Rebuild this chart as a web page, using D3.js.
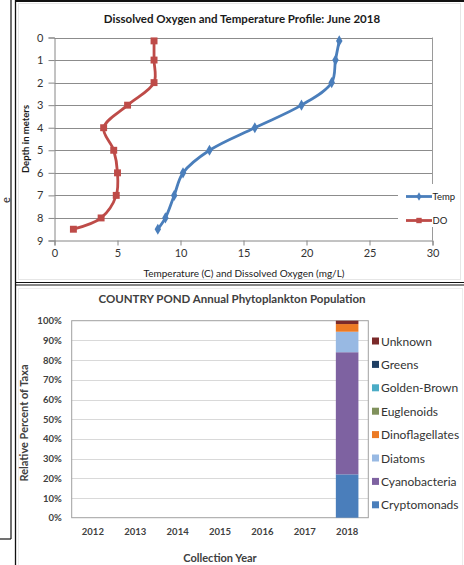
<!DOCTYPE html>
<html>
<head>
<meta charset="utf-8">
<script src="https://cdn.jsdelivr.net/npm/d3@7"></script>
<style>
  html, body { margin: 0; padding: 0; background: #fff; }
  svg { display: block; }
  text { font-family: Lato, "Open Sans", sans-serif; }
</style>
</head>
<body>
<svg id="chart" width="464" height="565"></svg>
<script>
// ---------- Data: profile chart ----------
const depths = [0.15, 1, 2, 3, 4, 5, 6, 7, 8, 8.5];
const temperature = [22.6, 22.3, 22.0, 19.6, 15.9, 12.3, 10.2, 9.5, 8.8, 8.2];
const dissolvedOxygen = [7.9, 7.9, 7.9, 5.8, 3.9, 4.7, 5.0, 4.9, 3.7, 1.5];
const depthTicks = [0, 1, 2, 3, 4, 5, 6, 7, 8, 9];
const valueTicks = [0, 5, 10, 15, 20, 25, 30];
const profileSeries = ["Temp", "DO"];

// ---------- Data: phytoplankton chart ----------
const years = ["2012", "2013", "2014", "2015", "2016", "2017", "2018"];
const taxa = ["Cryptomonads", "Cyanobacteria", "Diatoms", "Dinoflagellates", "Euglenoids", "Golden-Brown", "Greens", "Unknown"];
const cryptomonads   = [0, 0, 0, 0, 0, 0, 22];
const cyanobacteria  = [0, 0, 0, 0, 0, 0, 62];
const diatoms        = [0, 0, 0, 0, 0, 0, 10.4];
const dinoflagellates= [0, 0, 0, 0, 0, 0, 3.9];
const euglenoids     = [0, 0, 0, 0, 0, 0, 0];
const goldenBrown    = [0, 0, 0, 0, 0, 0, 0];
const greens         = [0, 0, 0, 0, 0, 0, 0];
const unknown        = [0, 0, 0, 0, 0, 0, 1.7];
const percentTicks = [0, 10, 20, 30, 40, 50, 60, 70, 80, 90, 100];

const taxaValues = [cryptomonads, cyanobacteria, diatoms, dinoflagellates, euglenoids, goldenBrown, greens, unknown];
const taxaColors = ["#4A7EBB", "#7E62A1", "#98B9E3", "#EC7A24", "#80915C", "#4BACC6", "#1F3F63", "#7B2A2A"];

const svg = d3.select("#chart");

// ---------- Panel frames ----------
const frame = svg.append("g").attr("stroke", "#111").attr("fill", "none");
frame.append("line").attr("x1", 11).attr("x2", 11).attr("y1", 0).attr("y2", 539).attr("stroke-width", 1.2);
frame.append("line").attr("x1", 0).attr("x2", 11).attr("y1", 539).attr("y2", 539).attr("stroke-width", 1.2);
frame.append("line").attr("x1", 15.5).attr("x2", 15.5).attr("y1", 0).attr("y2", 565).attr("stroke-width", 1.3);
frame.append("line").attr("x1", 15).attr("x2", 464).attr("y1", 1).attr("y2", 1).attr("stroke-width", 2);
frame.append("line").attr("x1", 15).attr("x2", 464).attr("y1", 282.5).attr("y2", 282.5).attr("stroke-width", 1.2);
frame.append("line").attr("x1", 15).attr("x2", 464).attr("y1", 285).attr("y2", 285).attr("stroke-width", 1.2);
// faint chart-area borders
svg.append("rect").attr("x", 18.5).attr("y", 3.5).attr("width", 442).attr("height", 276)
  .attr("fill", "none").attr("stroke", "#e6e6e6");
svg.append("rect").attr("x", 18.5).attr("y", 288.5).attr("width", 444).attr("height", 280)
  .attr("fill", "none").attr("stroke", "#ececec");
// letter from neighbouring text, left margin
svg.append("text").attr("transform", "translate(10,200) rotate(-90)")
  .attr("text-anchor", "middle").attr("font-size", 11).attr("fill", "#222").text("e");

// ---------- Top chart: profile ----------
const x1 = d3.scaleLinear().domain([0, 30]).range([54.5, 432.5]);
const y1 = d3.scaleLinear().domain([0, 9]).range([37.5, 240.5]);

const topG = svg.append("g");
topG.append("text").attr("x", 242).attr("y", 23).attr("text-anchor", "middle")
  .attr("font-size", 11.5).attr("font-weight", "bold").attr("fill", "#1a1a1a")
  .text("Dissolved Oxygen and Temperature Profile: June 2018");

// gridlines
topG.append("g").selectAll("line").data(depthTicks.slice(0, -1)).join("line")
  .attr("x1", x1(0)).attr("x2", x1(30))
  .attr("y1", d => Math.round(y1(d)) + 0.5).attr("y2", d => Math.round(y1(d)) + 0.5)
  .attr("stroke", "#8c8c8c").attr("stroke-width", 1);
// right border of plot area
topG.append("line").attr("x1", x1(30)).attr("x2", x1(30)).attr("y1", y1(0)).attr("y2", y1(9))
  .attr("stroke", "#9a9a9a");

// axes
const yAxis1 = d3.axisLeft(y1).tickValues(depthTicks).tickSize(6).tickPadding(5);
const gy1 = topG.append("g").attr("transform", `translate(${x1(0)},0)`).call(yAxis1);
const xAxis1 = d3.axisBottom(x1).tickValues(valueTicks).tickSize(5).tickPadding(4);
const gx1 = topG.append("g").attr("transform", `translate(0,${y1(9)})`).call(xAxis1);
[gy1, gx1].forEach(g => {
  g.select(".domain").attr("stroke", "#868686");
  g.selectAll(".tick line").attr("stroke", "#868686");
  g.selectAll(".tick text").attr("font-family", "Lato, sans-serif").attr("font-size", 11).attr("fill", "#333");
});

topG.append("text").attr("transform", "translate(29,139) rotate(-90)").attr("text-anchor", "middle")
  .attr("font-size", 9.5).attr("font-weight", "bold").attr("fill", "#1a1a1a").text("Depth in meters");
topG.append("text").attr("x", 244).attr("y", 277).attr("text-anchor", "middle")
  .attr("font-size", 10).attr("fill", "#1a1a1a").text("Temperature (C) and Dissolved Oxygen (mg/L)");

const profileData = [
  { name: "Temp", values: temperature, color: "#4A7EBB", marker: d3.symbolDiamond, size: 36 },
  { name: "DO", values: dissolvedOxygen, color: "#BE4B48", marker: d3.symbolSquare, size: 48 }
];
const line = d3.line().x(d => x1(d.v)).y(d => y1(d.d)).curve(d3.curveCatmullRom.alpha(0.5));
profileData.forEach(s => {
  const pts = depths.map((d, i) => ({ d, v: s.values[i] }));
  topG.append("path").datum(pts).attr("d", line).attr("fill", "none")
    .attr("stroke", s.color).attr("stroke-width", 2.8).attr("stroke-linejoin", "round");
  topG.append("g").selectAll("path").data(pts).join("path")
    .attr("transform", d => `translate(${x1(d.v)},${y1(d.d)})`)
    .attr("d", d3.symbol().type(s.marker).size(s.size)).attr("fill", s.color);
});

// legend
topG.append("rect").attr("x", 398).attr("y", 184).attr("width", 60).attr("height", 43).attr("fill", "#fff");
profileData.forEach((s, i) => {
  const ly = 196.5 + i * 24;
  topG.append("line").attr("x1", 406).attr("x2", 432).attr("y1", ly).attr("y2", ly)
    .attr("stroke", s.color).attr("stroke-width", 2.8);
  topG.append("path").attr("transform", `translate(419,${ly})`)
    .attr("d", d3.symbol().type(s.marker).size(s.size * 0.6)).attr("fill", s.color);
  topG.append("text").attr("x", 432.5).attr("y", ly + 3.5).attr("font-size", 9.5).attr("fill", "#222").text(s.name);
});

// ---------- Bottom chart: phytoplankton ----------
const x2 = d3.scaleBand().domain(years).range([71.7, 368.3]).paddingInner(0.467).paddingOuter(0.233);
const y2 = d3.scaleLinear().domain([0, 100]).range([517.7, 320.7]);

const bot = svg.append("g");
bot.append("text").attr("x", 232).attr("y", 303).attr("text-anchor", "middle")
  .attr("font-size", 11.5).attr("font-weight", "bold").attr("fill", "#404040")
  .text("COUNTRY POND Annual Phytoplankton Population");

bot.append("g").selectAll("line").data(percentTicks.slice(1, -1)).join("line")
  .attr("x1", 71.7).attr("x2", 368.3)
  .attr("y1", d => Math.round(y2(d)) + 0.5).attr("y2", d => Math.round(y2(d)) + 0.5)
  .attr("stroke", "#d9d9d9");
bot.append("rect").attr("x", 71.7).attr("y", y2(100)).attr("width", 368.3 - 71.7).attr("height", y2(0) - y2(100))
  .attr("fill", "none").attr("stroke", "#a0a0a0");

const rows = years.map((yr, i) => {
  const o = { year: yr };
  taxa.forEach((t, k) => { o[t] = taxaValues[k][i]; });
  return o;
});
const stacked = d3.stack().keys(taxa)(rows);
bot.append("g").selectAll("g").data(stacked).join("g")
  .attr("fill", (d, i) => taxaColors[i])
  .selectAll("rect").data(d => d).join("rect")
  .attr("x", d => x2(d.data.year)).attr("width", x2.bandwidth())
  .attr("y", d => y2(d[1])).attr("height", d => Math.max(0, y2(d[0]) - y2(d[1])));

const yAxis2 = d3.axisLeft(y2).tickValues(percentTicks).tickFormat(d => d + "%").tickSize(0).tickPadding(10);
const gy2 = bot.append("g").attr("transform", "translate(71.7,0)").call(yAxis2);
const xAxis2 = d3.axisBottom(x2).tickSize(0).tickPadding(11);
const gx2 = bot.append("g").attr("transform", `translate(0,${y2(0)})`).call(xAxis2);
[gy2, gx2].forEach(g => {
  g.select(".domain").remove();
  g.selectAll(".tick text").attr("font-family", "Lato, sans-serif").attr("font-size", 9.5)
    .attr("font-weight", "bold").attr("fill", "#404040");
});

bot.append("text").attr("transform", "translate(28,423) rotate(-90)").attr("text-anchor", "middle")
  .attr("font-size", 11).attr("font-weight", "bold").attr("fill", "#404040").text("Relative Percent of Taxa");
bot.append("text").attr("x", 220).attr("y", 562).attr("text-anchor", "middle")
  .attr("font-size", 11).attr("font-weight", "bold").attr("fill", "#404040").text("Collection Year");

// legend
const leg = bot.append("g");
taxa.slice().reverse().forEach((t, i) => {
  const k = taxa.indexOf(t);
  const ly = 341 + i * 23.4;
  leg.append("rect").attr("x", 372).attr("y", ly - 3.5).attr("width", 7).attr("height", 7).attr("fill", taxaColors[k]);
  leg.append("text").attr("x", 381).attr("y", ly + 4.5).attr("font-size", 12).attr("fill", "#333").text(t);
});
</script>
</body>
</html>
